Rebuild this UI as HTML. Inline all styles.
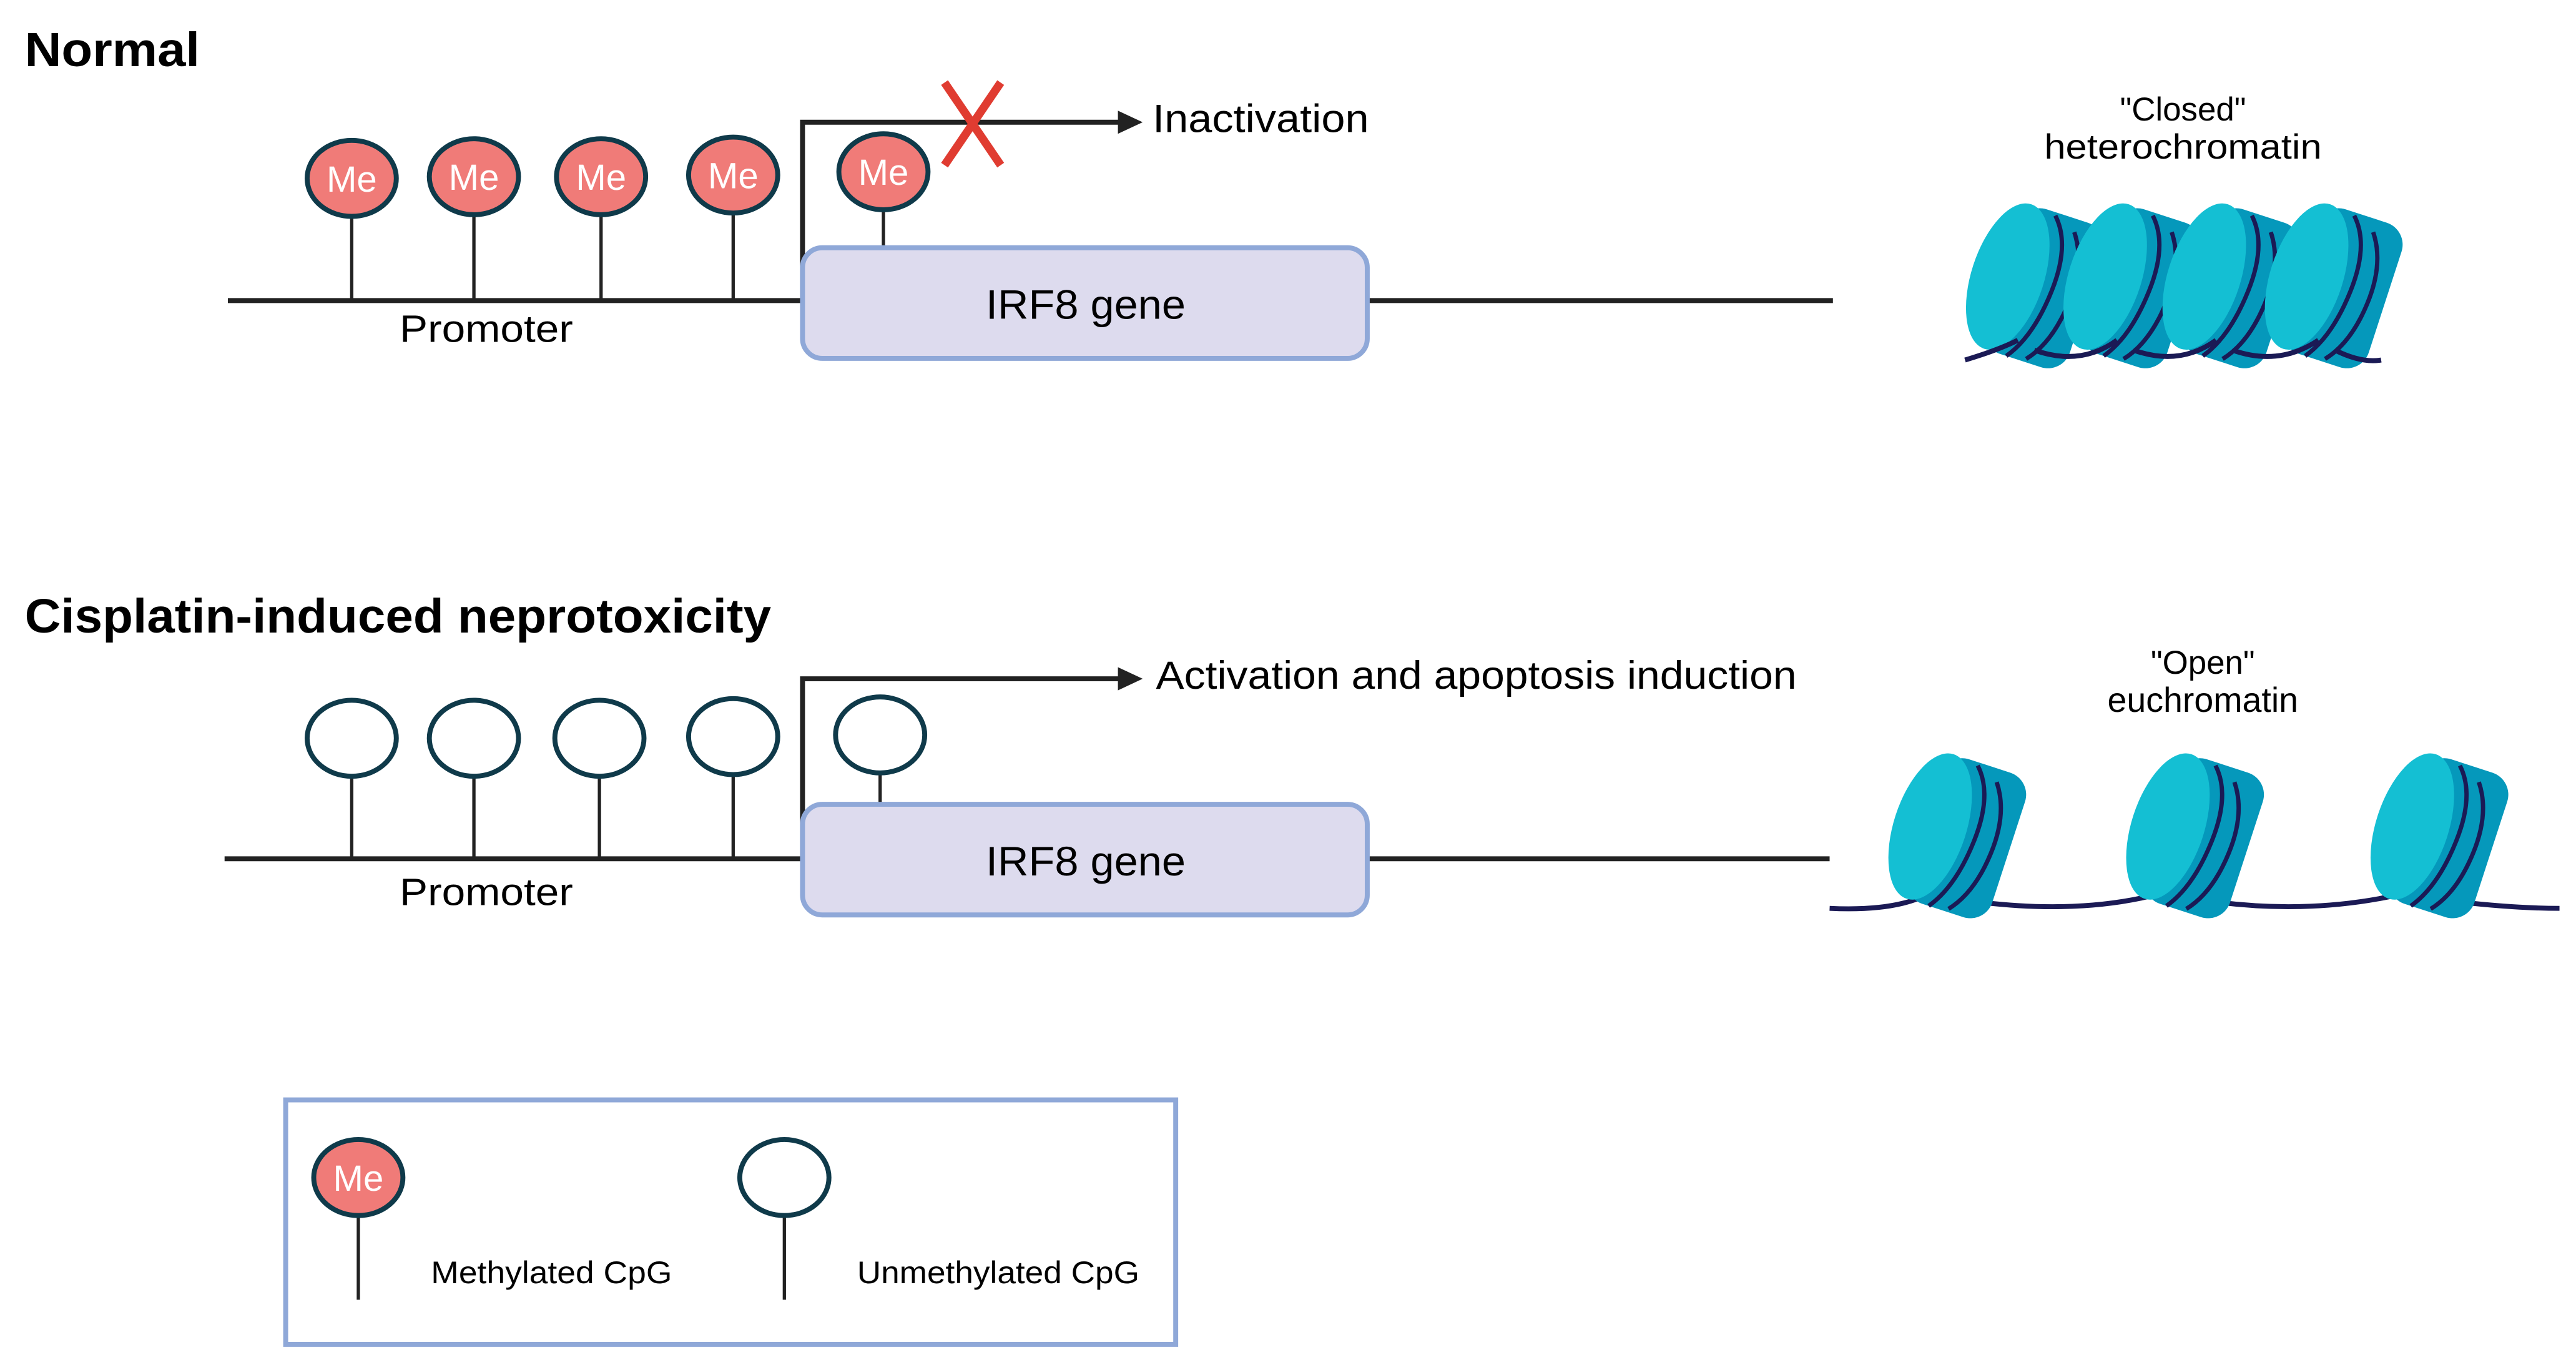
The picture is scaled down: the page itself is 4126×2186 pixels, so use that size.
<!DOCTYPE html>
<html><head><meta charset="utf-8"><style>
html,body{margin:0;padding:0;background:#fff;}
svg{display:block;}
text{font-family:"Liberation Sans",sans-serif;}
</style></head><body>
<svg width="4126" height="2186" viewBox="0 0 1560 826.5" xmlns="http://www.w3.org/2000/svg">
<defs>
<g id="nuc">
  <g transform="rotate(18)">
    <rect x="-22" y="-46" width="54" height="92" rx="14" fill="#0598bb"/>
    <ellipse cx="-18" cy="0" rx="22" ry="46" fill="#14bfd3"/>
    <path d="M-2,-44 Q12,-30 10,0 Q8,30 -4,46" fill="none" stroke="#1b1a55" stroke-width="2.6"/>
    <path d="M12,-38 Q24,-22 22,4 Q20,30 8,44" fill="none" stroke="#1b1a55" stroke-width="2.6"/>
  </g>
</g>
<g id="me">
  <ellipse cx="0" cy="0" rx="27" ry="23" fill="#f07b78" stroke="#0f3a4a" stroke-width="3"/>
  <text x="0" y="8" font-size="22" fill="#fff" text-anchor="middle">Me</text>
</g>
<g id="un">
  <ellipse cx="0" cy="0" rx="27" ry="23" fill="#fff" stroke="#0f3a4a" stroke-width="3"/>
</g>
</defs>

<!-- NORMAL -->
<text x="15" y="40" font-size="29" font-weight="bold" textLength="106" lengthAdjust="spacingAndGlyphs">Normal</text>
<line x1="138" y1="182" x2="1110" y2="182" stroke="#222" stroke-width="3"/>
<g stroke="#222" stroke-width="2">
<line x1="213" y1="130" x2="213" y2="182"/><line x1="287" y1="130" x2="287" y2="182"/>
<line x1="364" y1="130" x2="364" y2="182"/><line x1="444" y1="130" x2="444" y2="182"/>
<line x1="535" y1="127" x2="535" y2="150"/>
</g>
<use href="#me" x="213" y="108"/><use href="#me" x="287" y="107"/><use href="#me" x="364" y="107"/><use href="#me" x="444" y="106"/><use href="#me" x="535" y="104"/>
<path d="M486,182 V74 H680" fill="none" stroke="#222" stroke-width="3"/>
<polygon points="677,67 692,74 677,81" fill="#222"/>
<path d="M572,50 L606,100 M606,50 L572,100" stroke="#e03c31" stroke-width="5"/>
<text x="698" y="80" font-size="24" textLength="131" lengthAdjust="spacingAndGlyphs">Inactivation</text>
<rect x="486" y="150" width="342" height="67" rx="12" fill="#dddbee" stroke="#8fa8d8" stroke-width="3"/>
<text x="597" y="193" font-size="25" textLength="121" lengthAdjust="spacingAndGlyphs">IRF8 gene</text>
<text x="242" y="207" font-size="23" textLength="105" lengthAdjust="spacingAndGlyphs">Promoter</text>
<text x="1322" y="73" font-size="20" text-anchor="middle">"Closed"</text>
<text x="1238" y="96" font-size="21" textLength="168" lengthAdjust="spacingAndGlyphs">heterochromatin</text>
<use href="#nuc" x="1233" y="173"/><use href="#nuc" x="1292" y="173"/><use href="#nuc" x="1352" y="173"/><use href="#nuc" x="1414" y="173"/>
<path d="M1190,218 Q1210,212 1222,206 M1232,212 Q1260,222 1282,206 M1292,212 Q1320,222 1342,206 M1352,212 Q1380,222 1404,206 M1414,212 Q1430,220 1442,218" fill="none" stroke="#1b1a55" stroke-width="3"/>

<!-- CISPLATIN -->
<text x="15" y="383" font-size="29" font-weight="bold" textLength="452" lengthAdjust="spacingAndGlyphs">Cisplatin-induced neprotoxicity</text>
<line x1="136" y1="520" x2="1108" y2="520" stroke="#222" stroke-width="3"/>
<g stroke="#222" stroke-width="2">
<line x1="213" y1="470" x2="213" y2="520"/><line x1="287" y1="470" x2="287" y2="520"/>
<line x1="363" y1="470" x2="363" y2="520"/><line x1="444" y1="470" x2="444" y2="520"/>
<line x1="533" y1="468" x2="533" y2="487"/>
</g>
<use href="#un" x="213" y="447"/><use href="#un" x="287" y="447"/><use href="#un" x="363" y="447"/><use href="#un" x="444" y="446"/><use href="#un" x="533" y="445"/>
<path d="M486,520 V411 H680" fill="none" stroke="#222" stroke-width="3"/>
<polygon points="677,404 692,411 677,418" fill="#222"/>
<text x="700" y="417" font-size="24" textLength="388" lengthAdjust="spacingAndGlyphs">Activation and apoptosis induction</text>
<rect x="486" y="487" width="342" height="67" rx="12" fill="#dddbee" stroke="#8fa8d8" stroke-width="3"/>
<text x="597" y="530" font-size="25" textLength="121" lengthAdjust="spacingAndGlyphs">IRF8 gene</text>
<text x="242" y="548" font-size="23" textLength="105" lengthAdjust="spacingAndGlyphs">Promoter</text>
<text x="1334" y="408" font-size="20" text-anchor="middle">"Open"</text>
<text x="1334" y="431" font-size="21" text-anchor="middle">euchromatin</text>
<path d="M1108,550 Q1150,552 1170,540 M1190,545 Q1260,555 1312,540 M1334,545 Q1400,555 1460,540 M1480,545 Q1520,550 1550,550" fill="none" stroke="#1b1a55" stroke-width="3"/>
<use href="#nuc" x="1186" y="506"/><use href="#nuc" x="1330" y="506"/><use href="#nuc" x="1478" y="506"/>

<!-- LEGEND -->
<rect x="173" y="666" width="539" height="148" fill="#fff" stroke="#8fa8d8" stroke-width="3"/>
<line x1="217" y1="736" x2="217" y2="787" stroke="#222" stroke-width="2"/>
<use href="#me" x="217" y="713"/>
<line x1="475" y1="736" x2="475" y2="787" stroke="#222" stroke-width="2"/>
<use href="#un" x="475" y="713"/>
<text x="261" y="777" font-size="19" textLength="146" lengthAdjust="spacingAndGlyphs">Methylated CpG</text>
<text x="519" y="777" font-size="19" textLength="171" lengthAdjust="spacingAndGlyphs">Unmethylated CpG</text>
</svg>
</body></html>
